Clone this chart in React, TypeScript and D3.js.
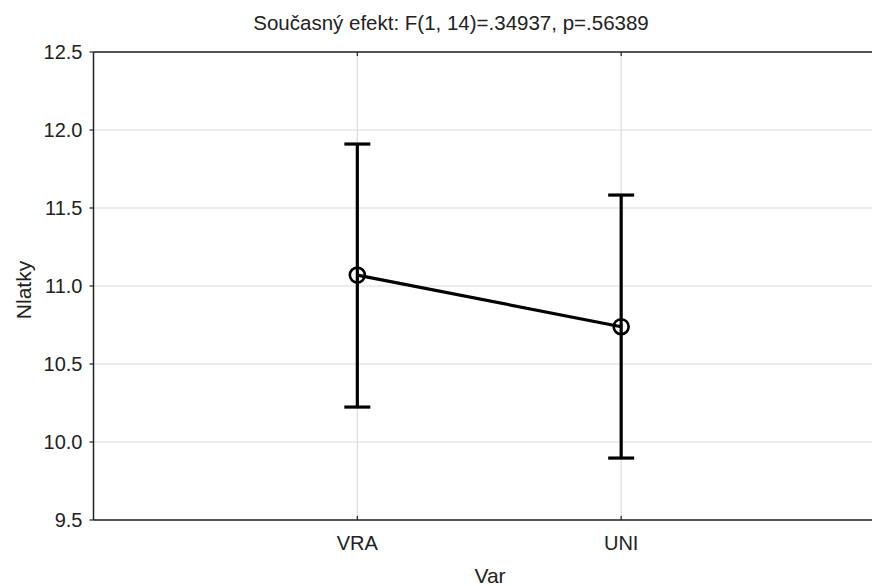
import React from "react";
import * as d3 from "d3";

const categories = ["VRA", "UNI"];
const means = [11.07, 10.739];
const upper = [11.91, 11.583];
const lower = [10.224, 9.897];
const yTicks = [9.5, 10.0, 10.5, 11.0, 11.5, 12.0, 12.5];

const title = "Současný efekt: F(1, 14)=.34937, p=.56389";

const W = 872;
const H = 586;
const margin = { left: 93.5, top: 52, right: -13, bottom: 66 };

export default function App() {
  const x = d3
    .scalePoint<string>()
    .domain(categories)
    .range([margin.left, W - margin.right])
    .padding(1);
  const y = d3
    .scaleLinear()
    .domain([9.5, 12.5])
    .range([H - margin.bottom, margin.top]);

  const line = d3
    .line<number>()
    .x((_, i) => x(categories[i]) as number)
    .y((d) => y(d));

  const font = "'Liberation Sans', Arial, sans-serif";
  const left = margin.left;
  const right = W - margin.right;
  const top = margin.top;
  const bottom = H - margin.bottom;

  return (
    <svg
      width={W}
      height={H}
      style={{ position: "absolute", left: 0, top: 0, background: "#fff" }}
      fontFamily={font}
    >
      {/* grid */}
      {yTicks.map((t) => (
        <line key={"g" + t} x1={left} x2={right} y1={y(t)} y2={y(t)} stroke="#dcdcdc" strokeWidth={1.2} />
      ))}
      {categories.map((c) => (
        <line key={"v" + c} x1={x(c)} x2={x(c)} y1={top} y2={bottom} stroke="#dcdcdc" strokeWidth={1.2} />
      ))}

      {/* frame */}
      <line x1={left} x2={right} y1={top} y2={top} stroke="#222" strokeWidth={1.5} />
      <line x1={left} x2={right} y1={bottom} y2={bottom} stroke="#222" strokeWidth={1.5} />
      <line x1={left} x2={left} y1={top} y2={bottom} stroke="#222" strokeWidth={1.5} />

      {/* y ticks */}
      {yTicks.map((t) => (
        <g key={"t" + t}>
          <line x1={left - 4} x2={left} y1={y(t)} y2={y(t)} stroke="#222" strokeWidth={1.2} />
          <text x={left - 11} y={y(t)} dy="0.36em" textAnchor="end" fontSize={20} fill="#222">
            {t.toFixed(1)}
          </text>
        </g>
      ))}

      {/* x ticks */}
      {categories.map((c) => (
        <g key={"x" + c}>
          <line x1={x(c)} x2={x(c)} y1={bottom - 4} y2={bottom} stroke="#222" strokeWidth={1.2} />
          <line x1={x(c)} x2={x(c)} y1={top} y2={top + 4} stroke="#222" strokeWidth={1.2} />
          <text x={x(c)} y={bottom + 30} textAnchor="middle" fontSize={20} fill="#222">
            {c}
          </text>
        </g>
      ))}

      {/* error bars */}
      {categories.map((c, i) => {
        const cx = x(c) as number;
        return (
          <g key={"e" + c} stroke="#000" strokeWidth={3.2}>
            <line x1={cx} x2={cx} y1={y(upper[i])} y2={y(lower[i])} />
            <line x1={cx - 13} x2={cx + 13} y1={y(upper[i])} y2={y(upper[i])} />
            <line x1={cx - 13} x2={cx + 13} y1={y(lower[i])} y2={y(lower[i])} />
          </g>
        );
      })}

      {/* means line */}
      <path d={line(means) ?? ""} fill="none" stroke="#000" strokeWidth={3.2} />
      {means.map((m, i) => (
        <circle key={"c" + i} cx={x(categories[i])} cy={y(m)} r={7.5} fill="none" stroke="#000" strokeWidth={2.6} />
      ))}

      {/* labels */}
      <text x={451} y={30} textAnchor="middle" fontSize={20.5} fill="#222">
        {title}
      </text>
      <text x={490} y={583} textAnchor="middle" fontSize={21} fill="#222">
        Var
      </text>
      <text
        transform={`translate(31, 290) rotate(-90)`}
        textAnchor="middle"
        fontSize={21}
        fill="#222"
      >
        Nlatky
      </text>
    </svg>
  );
}
